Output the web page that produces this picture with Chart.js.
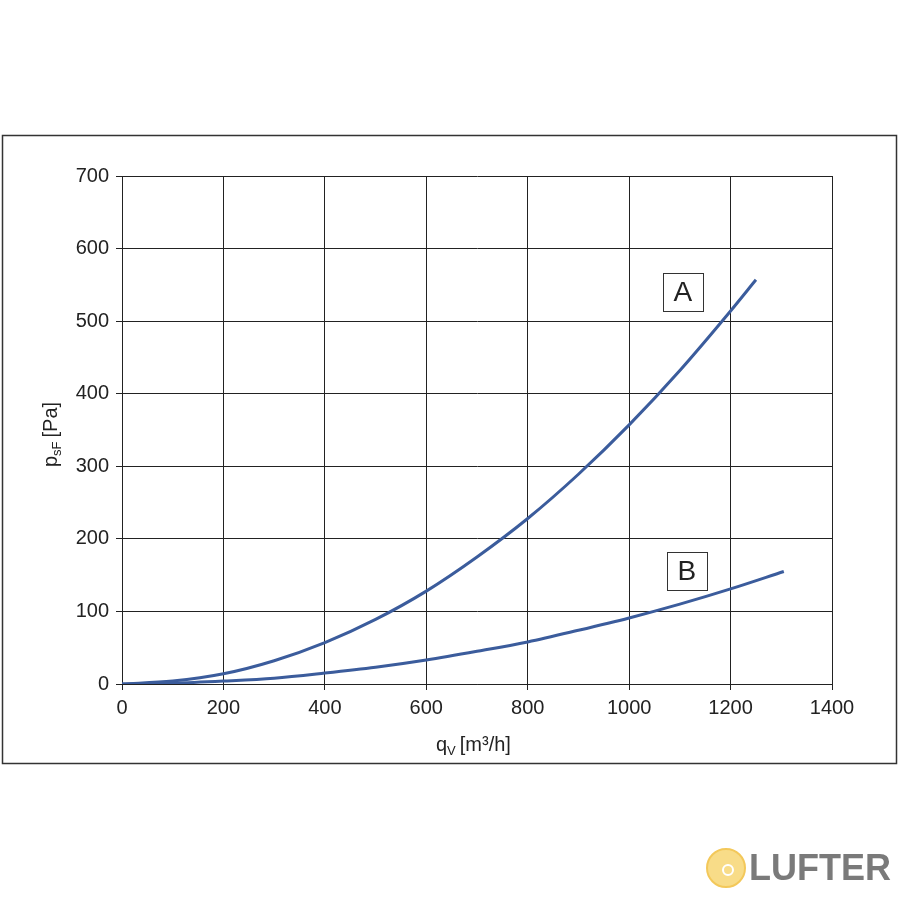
<!DOCTYPE html>
<html>
<head>
<meta charset="utf-8">
<script src="https://cdn.jsdelivr.net/npm/chart.js@4.4.1/dist/chart.umd.min.js"></script>
<style>
  body { margin: 0; background: #fff; }
  #wrap { position: absolute; left: 0; top: 0; width: 900px; height: 900px; }
  #logo { position: absolute; left: 706px; top: 847px; height: 42px; display: flex; align-items: center; }
  #logo .fan { width: 40px; height: 40px; border-radius: 50%; background: #f8dc88; border: 2px solid #f3c85a; box-sizing: border-box; position: relative; }
  #logo .fan::after { content: ''; position: absolute; left: 14px; top: 14px; width: 8px; height: 8px; border-radius: 50%; border: 2px solid #fff; }
  #logo .txt { font-family: "Liberation Sans", Arial, sans-serif; font-weight: bold; font-size: 36px; color: #7a7a7a; margin-left: 3px; }
</style>
</head>
<body>
<div id="wrap"><canvas id="chart" width="900" height="900"></canvas></div>
<div id="logo"><div class="fan"></div><div class="txt">LUFTER</div></div>
<script>
const xTicks = [0, 200, 400, 600, 800, 1000, 1200, 1400];
const yTicks = [0, 100, 200, 300, 400, 500, 600, 700];

const curveAx = [0, 100, 200, 300, 400, 500, 600, 700, 800, 900, 1000, 1100, 1200, 1250];
const curveAy = [0, 4, 14, 32, 57, 89, 128, 175, 228, 289, 357, 432, 514, 557];
const curveBx = [0, 100, 200, 300, 400, 500, 600, 700, 800, 900, 1000, 1100, 1200, 1305];
const curveBy = [0, 1, 4, 8, 15, 23, 33, 45, 58, 74, 91, 110, 131, 155];

const labels = [
  { text: 'A', x: 1106, y: 540 },
  { text: 'B', x: 1114, y: 156 }
];

const lineColor = '#3b5c9c';
const font = '"Liberation Sans", Arial, sans-serif';

const toPts = (xs, ys) => xs.map((x, i) => ({ x: x, y: ys[i] }));

// frame, curve labels and axis titles with subscripts
const extras = {
  id: 'extras',
  afterDraw(chart) {
    const ctx = chart.ctx;
    const xs = chart.scales.x, ys = chart.scales.y;
    ctx.save();
    ctx.strokeStyle = '#333';
    ctx.lineWidth = 1.5;
    ctx.strokeRect(2.5, 135.5, 894, 628);

    ctx.textAlign = 'center';
    ctx.textBaseline = 'middle';
    labels.forEach(l => {
      const px = xs.getPixelForValue(l.x), py = ys.getPixelForValue(l.y);
      ctx.fillStyle = '#fff';
      ctx.fillRect(px - 20, py - 19, 40, 38);
      ctx.strokeStyle = '#333';
      ctx.lineWidth = 1;
      ctx.strokeRect(Math.round(px - 20) + 0.5, Math.round(py - 19) + 0.5, 40, 38);
      ctx.fillStyle = '#222';
      ctx.font = '28px ' + font;
      ctx.fillText(l.text, px, py + 1);
    });

    // x title: q_V [m³/h]
    ctx.fillStyle = '#222';
    ctx.textAlign = 'left';
    ctx.textBaseline = 'alphabetic';
    let x = 436, y = 751;
    ctx.font = '20px ' + font;
    ctx.fillText('q', x, y);
    x += ctx.measureText('q').width;
    ctx.font = '13px ' + font;
    ctx.fillText('V', x, y + 4);
    x += ctx.measureText('V').width + 4;
    ctx.font = '20px ' + font;
    ctx.fillText('[m³/h]', x, y);

    // y title: p_sF [Pa]
    ctx.translate(57, 467);
    ctx.rotate(-Math.PI / 2);
    x = 0; y = 0;
    ctx.font = '20px ' + font;
    ctx.fillText('p', x, y);
    x += ctx.measureText('p').width;
    ctx.font = '13px ' + font;
    ctx.fillText('sF', x, y + 4);
    x += ctx.measureText('sF').width + 4;
    ctx.font = '20px ' + font;
    ctx.fillText('[Pa]', x, y);
    ctx.restore();
  }
};

new Chart(document.getElementById('chart'), {
  type: 'scatter',
  data: {
    datasets: [
      { label: 'A', data: toPts(curveAx, curveAy), showLine: true, cubicInterpolationMode: 'monotone', borderColor: lineColor, borderWidth: 3, pointRadius: 0 },
      { label: 'B', data: toPts(curveBx, curveBy), showLine: true, cubicInterpolationMode: 'monotone', borderColor: lineColor, borderWidth: 3, pointRadius: 0 }
    ]
  },
  options: {
    responsive: false,
    animation: false,
    layout: { padding: { left: 62, top: 176, right: 68, bottom: 176 } },
    plugins: { legend: { display: false }, tooltip: { enabled: false } },
    scales: {
      x: {
        type: 'linear', min: 0, max: 1400,
        afterBuildTicks: s => { s.ticks = xTicks.map(v => ({ value: v })); },
        afterFit: s => { s.height = 40; },
        grid: { color: '#222', lineWidth: 1, tickLength: 6, drawTicks: true },
        border: { color: '#222', width: 1 },
        ticks: { color: '#222', font: { family: font, size: 20 }, padding: 6, maxRotation: 0, callback: v => String(v) }
      },
      y: {
        type: 'linear', min: 0, max: 700,
        afterBuildTicks: s => { s.ticks = yTicks.map(v => ({ value: v })); },
        afterFit: s => { s.width = 60; },
        grid: { color: '#222', lineWidth: 1, tickLength: 6, drawTicks: true },
        border: { color: '#222', width: 1 },
        ticks: { color: '#222', font: { family: font, size: 20 }, padding: 7, callback: v => String(v) }
      }
    }
  },
  plugins: [extras]
});
</script>
</body>
</html>
